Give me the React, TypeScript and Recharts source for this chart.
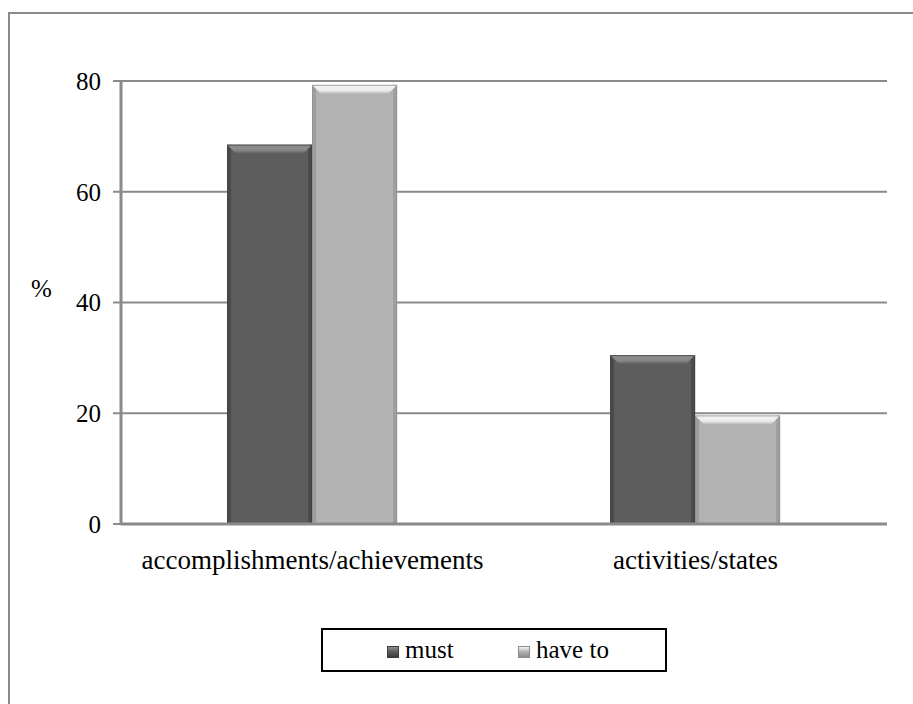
import React from "react";
import { BarChart, Bar, XAxis, YAxis, CartesianGrid, Legend } from "recharts";

const categories = ["accomplishments/achievements", "activities/states"];
const mustValues = [68.5, 30.5];
const haveToValues = [79.3, 19.6];
const yTicks = [0, 20, 40, 60, 80];
const edgeTicks = [0, 1, 2];

const rows = categories.map((category, i) => ({
  category,
  must: mustValues[i],
  haveTo: haveToValues[i],
}));

const serif = '"Liberation Serif", "Times New Roman", Times, "DejaVu Serif", "Noto Serif", serif';
const axisGray = "#8a8a8a";

const tones = {
  must: { base: "#5d5d5d", light: "#8f8f8f", dark: "#3c3c3c", id: "mustTop" },
  haveTo: { base: "#b3b3b3", light: "#f6f6f6", dark: "#8c8c8c", id: "haveTop" },
};

type Tone = (typeof tones)["must"];

// Bar with a bevelled top and shaded sides
function BevelBar(props: any) {
  const { x, y, width, height, tone } = props as {
    x: number;
    y: number;
    width: number;
    height: number;
    tone: Tone;
  };
  if (!height || height <= 0) return null;
  const b = 9;
  return (
    <g>
      <rect x={x} y={y} width={width} height={height} fill={tone.base} />
      <rect x={x} y={y} width={4} height={height} fill={tone.dark} opacity={0.55} />
      <rect x={x + width - 4} y={y} width={4} height={height} fill={tone.dark} opacity={0.55} />
      <polygon
        points={`${x},${y} ${x + width},${y} ${x + width - b},${y + b} ${x + b},${y + b}`}
        fill={`url(#${tone.id})`}
      />
      <rect
        x={x + 0.5}
        y={y + 0.5}
        width={width - 1}
        height={height - 1}
        fill="none"
        stroke={tone.dark}
        strokeOpacity={0.7}
      />
    </g>
  );
}

function LegendSwatch({ tone }: { tone: Tone }) {
  return (
    <span
      style={{
        display: "inline-block",
        width: 12,
        height: 12,
        background: `linear-gradient(${tone.light}, ${tone.base} 45%, ${tone.dark})`,
        border: `1px solid ${tone.dark}`,
        boxSizing: "border-box",
        marginRight: 6,
        verticalAlign: "0px",
      }}
    />
  );
}

function LegendBox() {
  return (
    <div
      style={{
        boxSizing: "border-box",
        width: 346,
        height: 44,
        border: "2px solid #000",
        background: "#fff",
        fontFamily: serif,
        fontSize: 25,
        color: "#000",
        display: "flex",
        alignItems: "center",
        paddingLeft: 64,
      }}
    >
      <span style={{ width: 131 }}>
        <LegendSwatch tone={tones.must} />
        must
      </span>
      <span>
        <LegendSwatch tone={tones.haveTo} />
        have to
      </span>
    </div>
  );
}

export default function App() {
  return (
    <div
      style={{
        position: "fixed",
        left: 0,
        top: 0,
        width: 913,
        height: 704,
        overflow: "hidden",
        background: "#fff",
        fontFamily: serif,
      }}
    >
      <div
        style={{
          position: "absolute",
          left: 8,
          top: 12,
          width: 1000,
          height: 1000,
          borderLeft: `2px solid ${axisGray}`,
          borderTop: `2px solid ${axisGray}`,
        }}
      />
      <BarChart
        width={913}
        height={704}
        data={rows}
        margin={{ top: 81, right: 26, left: 0, bottom: 140 }}
        barCategoryGap="27.7%"
        barGap={0}
        style={{ position: "absolute", left: 0, top: 0, fontFamily: serif }}
      >
        <defs>
          {[tones.must, tones.haveTo].map((t) => (
            <linearGradient key={t.id} id={t.id} x1="0" y1="0" x2="0" y2="1">
              <stop offset="0%" stopColor={t.light} />
              <stop offset="60%" stopColor={t.light} stopOpacity={0.85} />
              <stop offset="100%" stopColor={t.base} />
            </linearGradient>
          ))}
        </defs>
        <CartesianGrid
          vertical={false}
          stroke={axisGray}
          strokeWidth={2}
          xAxisId="cat"
        />
        <XAxis
          xAxisId="edge"
          type="number"
          domain={[0, 2]}
          ticks={edgeTicks}
          height={0}
          axisLine={false}
          tickLine={{ stroke: axisGray, strokeWidth: 2 }}
          tickSize={9}
          tickFormatter={() => ""}
        />
        <XAxis
          xAxisId="cat"
          dataKey="category"
          height={40}
          axisLine={{ stroke: axisGray, strokeWidth: 3 }}
          tickLine={false}
          tickMargin={20}
          tick={{ fill: "#000", fontSize: 27, style: { fontFamily: serif } }}
        />
        <YAxis
          width={121}
          domain={[0, 80]}
          ticks={yTicks}
          axisLine={{ stroke: axisGray, strokeWidth: 3 }}
          tickLine={{ stroke: axisGray, strokeWidth: 2 }}
          tickSize={8}
          tickMargin={12}
          tick={{ fill: "#000", fontSize: 25, style: { fontFamily: serif } }}
          label={{
            value: "%",
            position: "insideLeft",
            offset: 31,
            dy: -14,
            style: { fill: "#000", fontSize: 25, fontFamily: serif },
          }}
        />
        <Legend
          layout="horizontal"
          verticalAlign="middle"
          align="center"
          wrapperStyle={{ position: "absolute", left: 321, top: 628, width: 346 }}
          content={() => <LegendBox />}
        />
        <Bar
          xAxisId="cat"
          dataKey="must"
          name="must"
          isAnimationActive={false}
          shape={(p: any) => <BevelBar {...p} tone={tones.must} />}
        />
        <Bar
          xAxisId="cat"
          dataKey="haveTo"
          name="have to"
          isAnimationActive={false}
          shape={(p: any) => <BevelBar {...p} tone={tones.haveTo} />}
        />
      </BarChart>
    </div>
  );
}
